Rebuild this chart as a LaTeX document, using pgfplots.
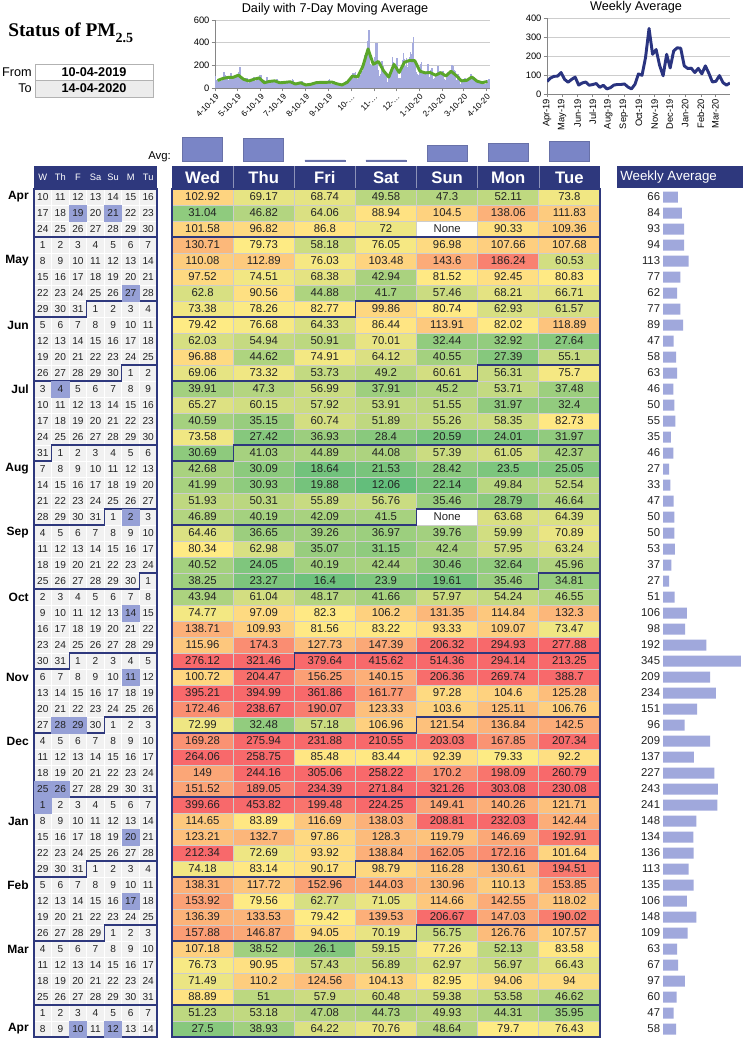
\documentclass[border=0pt]{standalone}
\usepackage{pgfplots}
\pgfplotsset{compat=1.18}
\usepackage{pgfplotstable}
\usepackage{fontspec}
\setmainfont{Liberation Sans}
\newfontfamily\titlefont{Liberation Serif}

\definecolor{navy}{RGB}{46,56,125}
\definecolor{gridgray}{RGB}{205,205,205}
\definecolor{calbg}{RGB}{241,241,241}
\definecolor{hl}{RGB}{150,160,214}
\definecolor{avgbar}{RGB}{122,133,198}
\definecolor{wkbar}{RGB}{160,168,220}
\definecolor{dayfill}{RGB}{165,171,222}
\definecolor{magreen}{RGB}{90,166,42}
\definecolor{wkline}{RGB}{42,52,128}
\definecolor{txt}{RGB}{35,35,35}
\definecolor{axgray}{RGB}{134,134,134}

\pgfplotsset{/pgf/number format/assume math mode=true}
\tikzset{ml/.style={draw=navy, line width=0.9pt, mark=none}}

\def\zerostr{0}
\newcommand\cellval{\edef\tmpv{\pgfplotspointmeta}\ifx\tmpv\zerostr None\else\tmpv\fi}

% daily PM2.5, one row per week (Wed..Tue), weekly average; 0 = None
\pgfplotstableread{
W Th F Sa Su M Tu Avg
102.92 69.17 68.74 49.58 47.3 52.11 73.8 66
31.04 46.82 64.06 88.94 104.5 138.06 111.83 84
101.58 96.82 86.8 72 0 90.33 109.36 93
130.71 79.73 58.18 76.05 96.98 107.66 107.68 94
110.08 112.89 76.03 103.48 143.6 186.24 60.53 113
97.52 74.51 68.38 42.94 81.52 92.45 80.83 77
62.8 90.56 44.88 41.7 57.46 68.21 66.71 62
73.38 78.26 82.77 99.86 80.74 62.93 61.57 77
79.42 76.68 64.33 86.44 113.91 82.02 118.89 89
62.03 54.94 50.91 70.01 32.44 32.92 27.64 47
96.88 44.62 74.91 64.12 40.55 27.39 55.1 58
69.06 73.32 53.73 49.2 60.61 56.31 75.7 63
39.91 47.3 56.99 37.91 45.2 53.71 37.48 46
65.27 60.15 57.92 53.91 51.55 31.97 32.4 50
40.59 35.15 60.74 51.89 55.26 58.35 82.73 55
73.58 27.42 36.93 28.4 20.59 24.01 31.97 35
30.69 41.03 44.89 44.08 57.39 61.05 42.37 46
42.68 30.09 18.64 21.53 28.42 23.5 25.05 27
41.99 30.93 19.88 12.06 22.14 49.84 52.54 33
51.93 50.31 55.89 56.76 35.46 28.79 46.64 47
46.89 40.19 42.09 41.5 0 63.68 64.39 50
64.46 36.65 39.26 36.97 39.76 59.99 70.89 50
80.34 62.98 35.07 31.15 42.4 57.95 63.24 53
40.52 24.05 40.19 42.44 30.46 32.64 45.96 37
38.25 23.27 16.4 23.9 19.61 35.46 34.81 27
43.94 61.04 48.17 41.66 57.97 54.24 46.55 51
74.77 97.09 82.3 106.2 131.35 114.84 132.3 106
138.71 109.93 81.56 83.22 93.33 109.07 73.47 98
115.96 174.3 127.73 147.39 206.32 294.93 277.88 192
276.12 321.46 379.64 415.62 514.36 294.14 213.25 345
100.72 204.47 156.25 140.15 206.36 269.74 388.7 209
395.21 394.99 361.86 161.77 97.28 104.6 125.28 234
172.46 238.67 190.07 123.33 103.6 125.11 106.76 151
72.99 32.48 57.18 106.96 121.54 136.84 142.5 96
169.28 275.94 231.88 210.55 203.03 167.85 207.34 209
264.06 258.75 85.48 83.44 92.39 79.33 92.2 137
149 244.16 305.06 258.22 170.2 198.09 260.79 227
151.52 189.05 234.39 271.84 321.26 303.08 230.08 243
399.66 453.82 199.48 224.25 149.41 140.26 121.71 241
114.65 83.89 116.69 138.03 208.81 232.03 142.44 148
123.21 132.7 97.86 128.3 119.79 146.69 192.91 134
212.34 72.69 93.92 138.84 162.05 172.16 101.64 136
74.18 83.14 90.17 98.79 116.28 130.61 194.51 113
138.31 117.72 152.96 144.03 130.96 110.13 153.85 135
153.92 79.56 62.77 71.05 114.66 142.55 118.02 106
136.39 133.53 79.42 139.53 206.67 147.03 190.02 148
157.88 146.87 94.05 70.19 56.75 126.76 107.57 109
107.18 38.52 26.1 59.15 77.26 52.13 83.58 63
76.73 90.95 57.43 56.89 62.97 56.97 66.43 67
71.49 110.2 124.56 104.13 82.95 94.06 94 97
88.89 51 57.9 60.48 59.38 53.58 46.62 60
51.23 53.18 47.08 44.73 49.93 44.31 35.95 47
27.5 38.93 64.22 70.76 48.64 79.7 76.43 58
}\pmdata

\pgfplotstableread{
W Th F Sa Su M Tu
10 11 12 13 14 15 16
17 18 19 20 21 22 23
24 25 26 27 28 29 30
1 2 3 4 5 6 7
8 9 10 11 12 13 14
15 16 17 18 19 20 21
22 23 24 25 26 27 28
29 30 31 1 2 3 4
5 6 7 8 9 10 11
12 13 14 15 16 17 18
19 20 21 22 23 24 25
26 27 28 29 30 1 2
3 4 5 6 7 8 9
10 11 12 13 14 15 16
17 18 19 20 21 22 23
24 25 26 27 28 29 30
31 1 2 3 4 5 6
7 8 9 10 11 12 13
14 15 16 17 18 19 20
21 22 23 24 25 26 27
28 29 30 31 1 2 3
4 5 6 7 8 9 10
11 12 13 14 15 16 17
18 19 20 21 22 23 24
25 26 27 28 29 30 1
2 3 4 5 6 7 8
9 10 11 12 13 14 15
16 17 18 19 20 21 22
23 24 25 26 27 28 29
30 31 1 2 3 4 5
6 7 8 9 10 11 12
13 14 15 16 17 18 19
20 21 22 23 24 25 26
27 28 29 30 1 2 3
4 5 6 7 8 9 10
11 12 13 14 15 16 17
18 19 20 21 22 23 24
25 26 27 28 29 30 31
1 2 3 4 5 6 7
8 9 10 11 12 13 14
15 16 17 18 19 20 21
22 23 24 25 26 27 28
29 30 31 1 2 3 4
5 6 7 8 9 10 11
12 13 14 15 16 17 18
19 20 21 22 23 24 25
26 27 28 29 1 2 3
4 5 6 7 8 9 10
11 12 13 14 15 16 17
18 19 20 21 22 23 24
25 26 27 28 29 30 31
1 2 3 4 5 6 7
8 9 10 11 12 13 14
}\caldata

\newcommand\monthlines{%
\addplot[ml] coordinates {(-0.5,3.5)(6.5,3.5)};
\addplot[ml] coordinates {(-0.5,8.5)(2.5,8.5)(2.5,7.5)(6.5,7.5)};
\addplot[ml] coordinates {(-0.5,12.5)(4.5,12.5)(4.5,11.5)(6.5,11.5)};
\addplot[ml] coordinates {(-0.5,17.5)(0.5,17.5)(0.5,16.5)(6.5,16.5)};
\addplot[ml] coordinates {(-0.5,21.5)(3.5,21.5)(3.5,20.5)(6.5,20.5)};
\addplot[ml] coordinates {(-0.5,25.5)(5.5,25.5)(5.5,24.5)(6.5,24.5)};
\addplot[ml] coordinates {(-0.5,30.5)(1.5,30.5)(1.5,29.5)(6.5,29.5)};
\addplot[ml] coordinates {(-0.5,34.5)(3.5,34.5)(3.5,33.5)(6.5,33.5)};
\addplot[ml] coordinates {(-0.5,38.5)(6.5,38.5)};
\addplot[ml] coordinates {(-0.5,43.5)(2.5,43.5)(2.5,42.5)(6.5,42.5)};
\addplot[ml] coordinates {(-0.5,47.5)(3.5,47.5)(3.5,46.5)(6.5,46.5)};
\addplot[ml] coordinates {(-0.5,51.5)(6.5,51.5)};
}

\pgfplotsset{
 tablegrid/.style={
  scale only axis, anchor=north west, height=636pt,
  xmin=-0.5, xmax=6.5, ymin=0.5, ymax=53.5, y dir=reverse, clip=false,
  xtick={0.5,1.5,...,5.5}, ytick={1.5,2.5,...,52.5},
  xticklabels={}, yticklabels={}, major tick length=0pt,
  grid=major,
 },
 smallchart/.style={
  scale only axis, anchor=north west, axis lines*=left,
  axis line style={draw=axgray, line width=0.5pt},
  tick align=outside, major tick length=2.5pt,
  tick style={draw=axgray, line width=0.5pt},
  ymajorgrids, major grid style={draw=gridgray, line width=0.4pt},
  yticklabel style={font=\fontsize{7}{8}\selectfont, inner sep=1.5pt},
 }
}

\begin{document}
\begin{tikzpicture}
\useasboundingbox (0,0) rectangle (557.25pt,-780pt);
\fill[white] (0,0) rectangle (557.25pt,-780pt);
\begin{scope}[x=0.75pt,y=-0.75pt]
\coordinate (daily) at (215,20);
\coordinate (wchart) at (547,18);
\coordinate (avgb) at (172,137);
\coordinate (cal) at (34,189);
\coordinate (hm) at (172,189);
\coordinate (wbar) at (663,189);
% title block
\node[anchor=base west, inner sep=0pt, font=\titlefont\bfseries\fontsize{14.5}{16}\selectfont] at (8,36.7)
  {Status of PM\raisebox{-4pt}{\fontsize{10.5}{12}\selectfont 2.5}};
\draw[gray!60, fill=white] (35,64) rectangle (153,80);
\draw[gray!60, fill=gray!15] (35,80) rectangle (153,97);
\node[anchor=east, inner sep=0pt, font=\fontsize{9.5}{11}\selectfont] at (32,72) {From};
\node[anchor=east, inner sep=0pt, font=\fontsize{9.5}{11}\selectfont] at (32,88.5) {To};
\node[font=\bfseries\fontsize{9.5}{11}\selectfont] at (94,72) {10-04-2019};
\node[font=\bfseries\fontsize{9.5}{11}\selectfont] at (94,88.5) {14-04-2020};
% chart titles
\node[font=\fontsize{9.5}{11}\selectfont] at (335,9) {Daily with 7-Day Moving Average};
\node[font=\fontsize{9.5}{11}\selectfont] at (636,7) {Weekly Average};
% Avg label
\node[anchor=east, inner sep=0pt, font=\fontsize{8.5}{10}\selectfont] at (171,157) {Avg:};
% headers
\fill[navy] (172,166) rectangle (600,188);
\foreach \i in {1,...,6} \draw[navy!55!white, line width=0.5pt] ({172+61.143*\i},166) -- ({172+61.143*\i},188);
\foreach \d [count=\i from 0] in {Wed,Thu,Fri,Sat,Sun,Mon,Tue}
  \node[text=white, font=\bfseries\fontsize{12.5}{14}\selectfont] at ({202.57+61.143*\i},177.5) {\d};
\fill[navy] (34,166) rectangle (157,188);
\foreach \d [count=\i from 0] in {W,Th,F,Sa,Su,M,Tu}
  \node[text=white, font=\fontsize{7}{8}\selectfont] at ({42.79+17.571*\i},177.5) {\d};
\fill[navy] (617,166) rectangle (743,188);
\node[anchor=west, text=white, inner sep=0pt, font=\fontsize{10}{12}\selectfont] at (620,177.5) {Weekly Average};
% month labels
\foreach \m/\r in {Apr/1,May/5,Jun/9,Jul/13,Aug/18,Sep/22,Oct/26,Nov/31,Dec/35,Jan/40,Feb/44,Mar/48,Apr/53}
  \node[anchor=east, inner sep=0pt, font=\bfseries\fontsize{9}{10}\selectfont] at (29,{197+16*(\r-1)}) {\m};
\end{scope}

% ---- daily chart
\begin{axis}[smallchart, at={(daily)}, width=206.25pt, height=51pt,
  xmin=-0.5, xmax=370.5, ymin=0, ymax=600,
  ytick={0,200,400,600},
  xtick={0,30,61,91,122,153,183,214,244,275,306,335,366},
  xticklabels={4-10-19,5-10-19,6-10-19,7-10-19,8-10-19,9-10-19,{10-…},{11-…},{12-…},1-10-20,2-10-20,3-10-20,4-10-20},
  xticklabel style={rotate=45, anchor=north east, font=\fontsize{6.2}{7}\selectfont, inner sep=1pt}]
\pgfplotsinvokeforeach{0,...,6}{
  \addplot[ycomb, draw=dayfill, line width=1.15pt, mark=none] table[x expr=7*\coordindex+#1, y index=#1] {\pmdata};
}
\addplot[magreen, line width=2.2pt, mark=none, line join=round] table[x expr=7*\coordindex+3, y=Avg] {\pmdata};
\end{axis}

% ---- weekly chart
\begin{axis}[smallchart, at={(wchart)}, width=137.25pt, height=57pt,
  xmin=0, xmax=52, ymin=0, ymax=400,
  ytick={0,100,200,300,400},
  xtick={0,4.286,8.714,13,17.429,21.857,26.143,30.571,34.857,39.286,43.714,47.857},
  xticklabels={Apr-19,May-19,Jun-19,Jul-19,Aug-19,Sep-19,Oct-19,Nov-19,Dec-19,Jan-20,Feb-20,Mar-20},
  xticklabel style={rotate=90, anchor=east, font=\fontsize{7}{8}\selectfont, inner sep=1pt}]
\addplot[wkline, line width=2.2pt, mark=none, line join=round] table[x expr=\coordindex, y=Avg] {\pmdata};
\end{axis}

% ---- weekday average bars
\begin{axis}[at={(avgb)}, anchor=north west, scale only axis, width=321pt, height=18pt,
  xmin=-0.5, xmax=6.5, ymin=0, ymax=24, hide axis]
\addplot[ybar, bar width=30pt, fill=avgbar, draw=avgbar!85!black, line width=0.4pt]
  coordinates {(0,23.3)(1,22.7)(2,1.2)(3,1.2)(4,16)(5,17.7)(6,19.3)};
\end{axis}

% ---- heatmap colours
\begin{axis}[at={(hm)}, anchor=north west, scale only axis, width=321pt, height=636pt,
  xmin=-0.5, xmax=6.5, ymin=0.5, ymax=53.5, y dir=reverse, hide axis,
  colormap={pm}{rgb255(0pt)=(255,255,255); rgb255(10pt)=(255,255,255); rgb255(12pt)=(99,190,123); rgb255(80pt)=(255,235,132); rgb255(210pt)=(248,105,107); rgb255(520pt)=(248,105,107)},
  point meta min=0, point meta max=520]
\pgfplotsinvokeforeach{0,...,6}{
  \addplot[scatter, only marks, mark=square*, mark size=6pt, mark options={xscale=3.821},
    scatter/use mapped color={draw=mapped color, fill=mapped color}, point meta=explicit]
    table[x expr=#1, y expr=\coordindex+1, meta index=#1] {\pmdata};
}
\end{axis}

% ---- heatmap grid, values, month lines
\begin{axis}[tablegrid, at={(hm)}, width=321pt,
  major grid style={draw=gridgray, line width=0.6pt},
  axis line style={draw=navy, line width=0.8pt}]
\pgfplotsinvokeforeach{0,...,6}{
  \addplot[only marks, mark=none, point meta=explicit symbolic, nodes near coords={\cellval},
    every node near coord/.append style={anchor=center, inner sep=0pt, font=\fontsize{8.5}{9}\selectfont, text=txt}]
    table[x expr=#1, y expr=\coordindex+1, meta index=#1] {\pmdata};
}
\monthlines
\end{axis}

% ---- calendar
\begin{axis}[tablegrid, at={(cal)}, width=92.25pt,
  axis background/.style={fill=calbg},
  major grid style={draw=white, line width=0.6pt},
  axis line style={draw=navy, line width=0.8pt}]
\addplot[only marks, mark=square*, draw=hl, fill=hl, mark size=5.9pt, mark options={xscale=1.1, draw=hl, fill=hl}]
  coordinates {(2,2)(4,2)(5,7)(1,13)(5,21)(5,27)(5,31)(1,34)(2,34)(0,38)(1,38)(0,39)(5,41)(5,45)(2,53)(4,53)};
\pgfplotsinvokeforeach{0,...,6}{
  \addplot[only marks, mark=none, point meta=explicit symbolic, nodes near coords={\pgfplotspointmeta},
    every node near coord/.append style={anchor=center, inner sep=0pt, font=\fontsize{7.6}{8}\selectfont, text=txt}]
    table[x expr=#1, y expr=\coordindex+1, meta index=#1] {\caldata};
}
\monthlines
\end{axis}

% ---- weekly average bars
\begin{axis}[at={(wbar)}, anchor=north west, scale only axis, width=60pt, height=636pt,
  xmin=0, xmax=354, ymin=0.5, ymax=53.5, y dir=reverse, hide axis, clip=false]
\addplot[xbar, bar width=8.25pt, fill=wkbar, draw=none] table[x=Avg, y expr=\coordindex+1] {\pmdata};
\addplot[only marks, mark=none, point meta=explicit symbolic, nodes near coords={\pgfplotspointmeta},
  every node near coord/.append style={anchor=east, inner sep=2pt, font=\fontsize{8.5}{9}\selectfont, text=txt}]
  table[x expr=0, y expr=\coordindex+1, meta=Avg] {\pmdata};
\end{axis}
\end{tikzpicture}
\end{document}
